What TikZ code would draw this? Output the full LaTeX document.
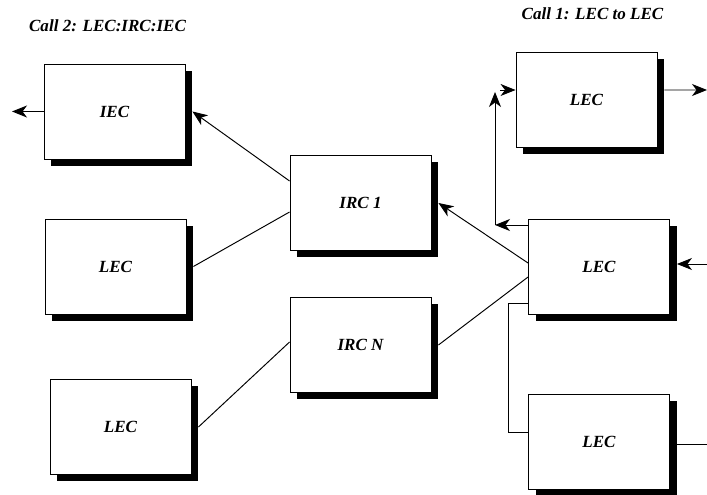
\documentclass[tikz,border=0pt]{standalone}
\usepackage{fontspec}
\setmainfont{Liberation Serif}
\usepackage{tikz}
\usetikzlibrary{arrows.meta,shadows}

\tikzset{
  unit/.style={draw, line width=0.5pt, fill=white, minimum width=2.82cm, minimum height=1.9cm,
    drop shadow={shadow xshift=0.14cm, shadow yshift=-0.14cm, fill=black, opacity=1},
    font=\fontsize{9.7}{11.6}\selectfont\bfseries\itshape},
  title/.style={font=\fontsize{9.7}{11.6}\selectfont\bfseries\itshape},
  link/.style={line width=0.55pt},
  flow/.style={line width=0.55pt,-{Stealth[length=0.3cm,width=0.24cm,inset=0.09cm]}}
}

\begin{document}
\begin{tikzpicture}
\useasboundingbox (0,0) rectangle (14.14,9.9);
% left side, call 2
\node[title] (t2) at (2.15,9.38) {Call 2: LEC:IRC:IEC};
\node[unit] (iec) at (2.29,7.67) {IEC};
\node[unit] (lecA) at (2.31,4.57) {LEC};
\node[unit] (lecB) at (2.41,1.36) {LEC};
% the two IRCs
\node[unit] (irc1) at (7.21,5.84) {IRC 1};
\node[unit] (ircN) at (7.21,3.0) {IRC N};
% right side, call 1
\node[title] (t1) at (11.85,9.62) {Call 1: LEC to LEC};
\node[unit] (lecR1) at (11.73,7.91) {LEC};
\node[unit] (lecR2) at (11.98,4.56) {LEC};
\node[unit] (lecR3) at (11.98,1.07) {LEC};

\coordinate (outL) at (0.24,7.67);
\coordinate (turn) at (9.9,5.4);
\coordinate (up) at (9.9,8.06);
\coordinate (in1) at (10.0,8.1);
\coordinate (out1) at (14.14,8.1);
\coordinate (in2) at (14.14,4.62);
\coordinate (out3) at (14.14,1.02);

\draw[flow] (iec.west) -- (outL);
\draw[flow] ([yshift=0.44cm]irc1.west) -- ([xshift=0.14cm]iec.east);
\draw[link] ([xshift=0.14cm]lecA.east) -- ([yshift=-0.18cm]irc1.west);
\draw[link] ([xshift=0.14cm]lecB.east) -- ([yshift=0.06cm]ircN.west);
\draw[link] ([xshift=0.14cm]ircN.east) -- ([yshift=-0.2cm]lecR2.west);
\draw[flow] ([yshift=0.08cm]lecR2.west) -- ([xshift=0.14cm]irc1.east);
\draw[flow] ([yshift=0.84cm]lecR2.west) -- (turn);
\draw[flow] (turn) -- (up);
\draw[flow] (in1) -- (in1 -| lecR1.west);
\draw[flow] ([xshift=0.14cm,yshift=0.19cm]lecR1.east) -- (out1);
\draw[flow] (in2) -- ([xshift=0.14cm]lecR2.east |- in2);
\draw[link] ([yshift=-0.72cm]lecR2.west) -- ++(-0.4,0) |- ([yshift=0.19cm]lecR3.west);
\draw[link] ([xshift=0.14cm]lecR3.east |- out3) -- (out3);
\end{tikzpicture}
\end{document}
